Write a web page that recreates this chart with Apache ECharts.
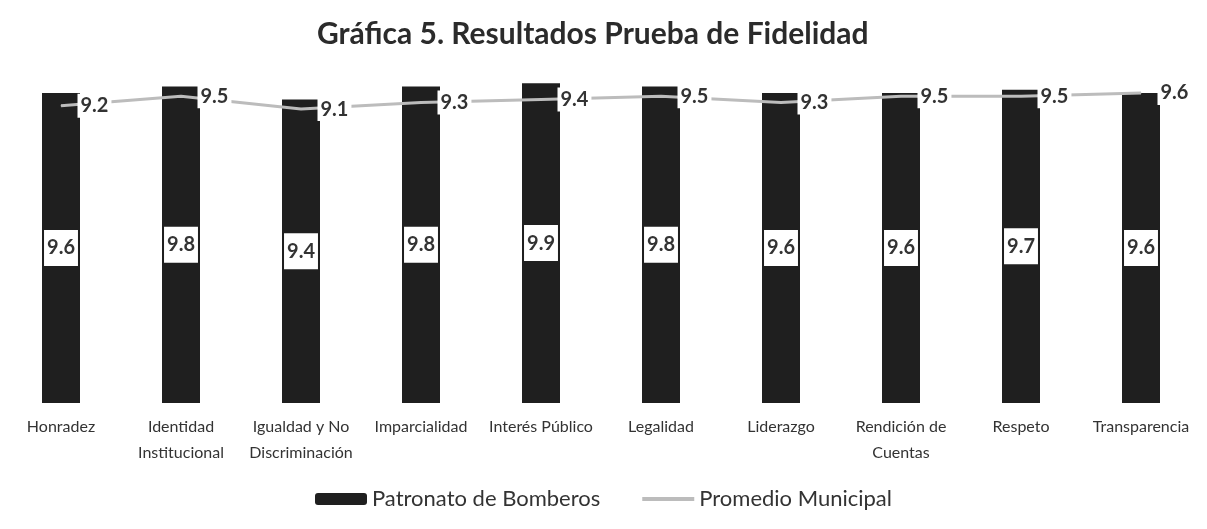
<!DOCTYPE html>
<html>
<head>
<meta charset="utf-8">
<script src="https://cdn.jsdelivr.net/npm/echarts@6/dist/echarts.min.js"></script>
<style>
  html, body { margin: 0; padding: 0; background: #fff; }
  #contain { width: 1207px; height: 529px; }
</style>
</head>
<body>
<div id="contain"></div>
<script>
const categories = [
  'Honradez', 'Identidad\nInstitucional', 'Igualdad y No\nDiscriminación', 'Imparcialidad',
  'Interés Público', 'Legalidad', 'Liderazgo', 'Rendición de\nCuentas', 'Respeto', 'Transparencia'
]
const patronato = [9.6, 9.8, 9.4, 9.8, 9.9, 9.8, 9.6, 9.6, 9.7, 9.6]
const promedio = [9.2, 9.5, 9.1, 9.3, 9.4, 9.5, 9.3, 9.5, 9.5, 9.6]

const font = 'Lato'
const chart = echarts.init(document.getElementById('contain'))

const option = {
  backgroundColor: '#fff',
  animation: false,
  title: {
    text: 'Gráfica 5. Resultados Prueba de Fidelidad',
    left: 312,
    top: 14,
    textStyle: { fontFamily: font, fontSize: 30, fontWeight: 'bold', color: '#2b2b2b' }
  },
  legend: {
    bottom: 14,
    left: 'center',
    itemWidth: 52,
    itemHeight: 12,
    itemGap: 40,
    textStyle: { fontFamily: font, fontSize: 22, color: '#333' },
    data: [
      'Patronato de Bomberos',
      { name: 'Promedio Municipal', itemStyle: { opacity: 0 }, lineStyle: { width: 4 } }
    ]
  },
  grid: { left: 1, right: 6, top: 80, bottom: 126 },
  xAxis: {
    type: 'category',
    data: categories,
    axisLine: { show: false },
    axisTick: { show: false },
    axisLabel: {
      interval: 0,
      margin: 11,
      fontFamily: font,
      fontSize: 16,
      lineHeight: 26,
      color: '#333'
    }
  },
  yAxis: {
    type: 'value',
    min: 0,
    max: 10,
    show: false,
    splitLine: { show: false }
  },
  series: [
    {
      name: 'Patronato de Bomberos',
      type: 'bar',
      data: patronato,
      barWidth: 38,
      itemStyle: { color: '#1f1f1f' },
      label: {
        show: true,
        position: 'inside',
        fontFamily: font,
        fontSize: 20,
        fontWeight: 'bold',
        color: '#333',
        backgroundColor: '#fff',
        padding: [8, 3]
      }
    },
    {
      name: 'Promedio Municipal',
      type: 'line',
      data: promedio,
      symbol: 'circle',
      symbolSize: 1,
      showSymbol: true,
      lineStyle: { color: '#bcbcbc', width: 3 },
      itemStyle: { color: '#bcbcbc' },
      label: {
        show: true,
        position: 'right',
        distance: 16,
        fontFamily: font,
        fontSize: 20,
        fontWeight: 'bold',
        color: '#333',
        backgroundColor: '#fff',
        padding: [2, 3]
      }
    }
  ]
}

chart.setOption(option)
</script>
</body>
</html>
